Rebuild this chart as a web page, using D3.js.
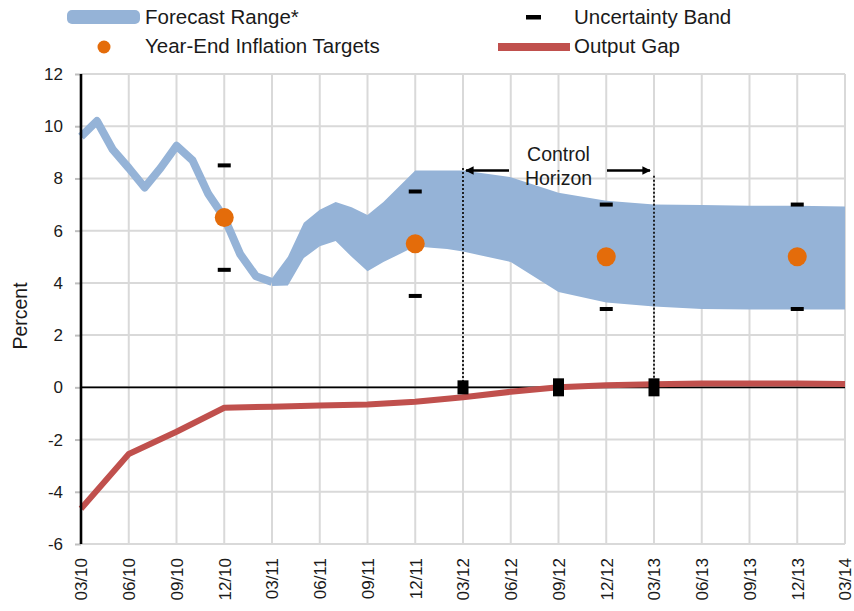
<!DOCTYPE html>
<html>
<head>
<meta charset="utf-8">
<script src="https://cdn.jsdelivr.net/npm/d3@7"></script>
<style>
  body { margin: 0; background: #fff; }
  text { font-family: "Liberation Sans", Arial, sans-serif; fill: #1a1a1a; }
</style>
</head>
<body>
<div class="chart"></div>
<script>
// data
var tickLabels = ["03/10", "06/10", "09/10", "12/10", "03/11", "06/11", "09/11", "12/11",
  "03/12", "06/12", "09/12", "12/12", "03/13", "06/13", "09/13", "12/13", "03/14"];
var yTicks = [-6, -4, -2, 0, 2, 4, 6, 8, 10, 12];

// inflation history (thin part of the forecast range)
var historyDates = ["2010-03", "2010-04", "2010-05", "2010-06", "2010-07", "2010-08", "2010-09",
  "2010-10", "2010-11", "2010-12", "2011-01", "2011-02", "2011-03"];
var historyValues = [9.6, 10.2, 9.1, 8.4, 7.65, 8.4, 9.25, 8.7, 7.4, 6.5, 5.1, 4.25, 4.03];

// forecast range
var bandDates = ["2011-03", "2011-04", "2011-05", "2011-06", "2011-07", "2011-08", "2011-09",
  "2011-10", "2011-11", "2011-12", "2012-01", "2012-02", "2012-03", "2012-06", "2012-09",
  "2012-12", "2013-03", "2013-06", "2013-09", "2013-12", "2014-03"];
var bandLow = [3.88, 3.9, 4.95, 5.4, 5.6, 5.0, 4.45, 4.8, 5.1, 5.4, 5.35, 5.3, 5.2, 4.8, 3.65,
  3.25, 3.1, 3.0, 2.98, 2.98, 2.98];
var bandHigh = [4.18, 5.0, 6.3, 6.8, 7.1, 6.9, 6.6, 7.1, 7.7, 8.3, 8.3, 8.3, 8.3, 8.05, 7.45,
  7.15, 7.0, 6.98, 6.95, 6.95, 6.93];

// output gap
var gapDates = ["2010-03", "2010-06", "2010-09", "2010-12", "2011-03", "2011-06", "2011-09",
  "2011-12", "2012-03", "2012-06", "2012-09", "2012-12", "2013-03", "2013-06", "2013-09",
  "2013-12", "2014-03"];
var gapValues = [-4.65, -2.55, -1.7, -0.78, -0.74, -0.7, -0.66, -0.55, -0.38, -0.17, 0.0,
  0.08, 0.12, 0.15, 0.15, 0.15, 0.13];

// year-end targets and uncertainty band
var targetDates = ["2010-12", "2011-12", "2012-12", "2013-12"];
var targetValues = [6.5, 5.5, 5.0, 5.0];
var bandUpper = [8.5, 7.5, 7.0, 7.0];
var bandLower = [4.5, 3.5, 3.0, 3.0];

// control horizon
var horizonDates = ["2012-03", "2013-03"];
var horizonTop = [8.4, 8.1];
var markerDates = ["2012-03", "2012-09", "2013-03"];

var svgWidth = 854;
var svgHeight = 611;
var margin = { top: 74, right: 9, bottom: 67, left: 81 };
var width = svgWidth - margin.left - margin.right;
var height = svgHeight - margin.top - margin.bottom;

function monthIndex(s) {
  var p = s.split("-");
  return (+p[0] - 2010) * 12 + (+p[1]) - 3;
}
function labelMonth(l) {
  var p = l.split("/");
  return (+p[1] - 10) * 12 + (+p[0]) - 3;
}

var blue = "#95b3d7", red = "#c0504d", orange = "#e46c0a", grid = "#d9d9d9";

var svg = d3.select(".chart")
  .append("svg")
  .attr("width", svgWidth)
  .attr("height", svgHeight);

var chartGroup = svg.append("g")
  .attr("transform", `translate(${margin.left}, ${margin.top})`);

var x = d3.scaleLinear().domain([0, 48]).range([0, width]);
var y = d3.scaleLinear().domain([-6, 12]).range([height, 0]);

var tickMonths = tickLabels.map(labelMonth);

// gridlines
chartGroup.selectAll(".hgrid")
  .data(yTicks)
  .enter()
  .append("line")
  .attr("x1", 0).attr("x2", width)
  .attr("y1", d => y(d)).attr("y2", d => y(d))
  .attr("stroke", grid)
  .attr("stroke-width", 2);

chartGroup.selectAll(".vgrid")
  .data(tickMonths.slice(1))
  .enter()
  .append("line")
  .attr("x1", d => x(d)).attr("x2", d => x(d))
  .attr("y1", 0).attr("y2", height)
  .attr("stroke", grid)
  .attr("stroke-width", 2);

// forecast range
var band = bandDates.map((d, i) => ({ m: monthIndex(d), lo: bandLow[i], hi: bandHigh[i] }));
chartGroup.append("path")
  .datum(band)
  .attr("fill", blue)
  .attr("d", d3.area().x(d => x(d.m)).y0(d => y(d.lo)).y1(d => y(d.hi)));

var hist = historyDates.map((d, i) => ({ m: monthIndex(d), v: historyValues[i] }));
chartGroup.append("path")
  .datum(hist)
  .attr("fill", "none")
  .attr("stroke", blue)
  .attr("stroke-width", 8)
  .attr("stroke-linejoin", "round")
  .attr("d", d3.line().x(d => x(d.m)).y(d => y(d.v)));

// zero line
chartGroup.append("line")
  .attr("x1", 0).attr("x2", width)
  .attr("y1", y(0)).attr("y2", y(0))
  .attr("stroke", "#000")
  .attr("stroke-width", 1.7);

// output gap
var gap = gapDates.map((d, i) => ({ m: monthIndex(d), v: gapValues[i] }));
chartGroup.append("path")
  .datum(gap)
  .attr("fill", "none")
  .attr("stroke", red)
  .attr("stroke-width", 6)
  .attr("stroke-linejoin", "round")
  .attr("d", d3.line().x(d => x(d.m)).y(d => y(d.v)));

// control horizon
chartGroup.selectAll(".horizon")
  .data(horizonDates)
  .enter()
  .append("line")
  .attr("x1", d => x(monthIndex(d))).attr("x2", d => x(monthIndex(d)))
  .attr("y1", (d, i) => y(horizonTop[i])).attr("y2", y(0))
  .attr("stroke", "#111")
  .attr("stroke-width", 1.8)
  .attr("stroke-dasharray", "2,2");

chartGroup.selectAll(".marker")
  .data(markerDates)
  .enter()
  .append("rect")
  .attr("x", d => x(monthIndex(d)) - 5.5)
  .attr("y", (d, i) => y(0) - (i ? 9 : 7))
  .attr("width", 11)
  .attr("height", (d, i) => i ? 18 : 14)
  .attr("fill", "#000");

var defs = svg.append("defs");
defs.append("marker")
  .attr("id", "head")
  .attr("viewBox", "0 0 10 10")
  .attr("refX", 9).attr("refY", 5)
  .attr("markerWidth", 4).attr("markerHeight", 3.4)
  .attr("orient", "auto")
  .append("path")
  .attr("d", "M0,0L10,5L0,10Z")
  .attr("fill", "#000");

var hx0 = x(monthIndex(horizonDates[0])), hx1 = x(monthIndex(horizonDates[1]));
var arrowY = y(8.3);
chartGroup.append("line")
  .attr("x1", hx0 + 46).attr("x2", hx0 + 3)
  .attr("y1", arrowY).attr("y2", arrowY)
  .attr("stroke", "#000").attr("stroke-width", 2.5)
  .attr("marker-end", "url(#head)");
chartGroup.append("line")
  .attr("x1", hx1 - 47).attr("x2", hx1 - 4)
  .attr("y1", arrowY).attr("y2", arrowY)
  .attr("stroke", "#000").attr("stroke-width", 2.5)
  .attr("marker-end", "url(#head)");

chartGroup.append("text")
  .attr("x", (hx0 + hx1) / 2)
  .attr("y", y(8.3) - 10)
  .attr("text-anchor", "middle")
  .style("font-size", "19.5px")
  .text("Control");
chartGroup.append("text")
  .attr("x", (hx0 + hx1) / 2)
  .attr("y", y(8.3) + 14)
  .attr("text-anchor", "middle")
  .style("font-size", "19.5px")
  .text("Horizon");

// uncertainty band dashes
var targets = targetDates.map((d, i) => ({ m: monthIndex(d), v: targetValues[i], up: bandUpper[i], lo: bandLower[i] }));
chartGroup.selectAll(".dashUp")
  .data(targets)
  .enter()
  .append("rect")
  .attr("x", d => x(d.m) - 6.5)
  .attr("y", d => y(d.up) - 2)
  .attr("width", 13).attr("height", 4)
  .attr("fill", "#000");
chartGroup.selectAll(".dashLo")
  .data(targets)
  .enter()
  .append("rect")
  .attr("x", d => x(d.m) - 6.5)
  .attr("y", d => y(d.lo) - 2)
  .attr("width", 13).attr("height", 4)
  .attr("fill", "#000");

// year-end targets
chartGroup.selectAll(".target")
  .data(targets)
  .enter()
  .append("circle")
  .attr("cx", d => x(d.m))
  .attr("cy", d => y(d.v))
  .attr("r", 9.5)
  .attr("fill", orange);

// axes
var leftAxis = d3.axisLeft(y).tickValues(yTicks).tickSize(6).tickPadding(12)
  .tickFormat(d => String(d));
var yAxisG = chartGroup.append("g").call(leftAxis);
yAxisG.select(".domain").remove();
yAxisG.selectAll("line").attr("stroke", "#bfbfbf").attr("stroke-width", 2);
yAxisG.selectAll("text").style("font-size", "17px").style("fill", "#1a1a1a");

var bottomAxis = d3.axisBottom(x).tickValues(tickMonths).tickFormat((d, i) => tickLabels[i]).tickSize(0);
var xAxisG = chartGroup.append("g")
  .attr("transform", `translate(0, ${height})`)
  .call(bottomAxis);
xAxisG.select(".domain").remove();
xAxisG.selectAll("text")
  .attr("y", 0)
  .attr("x", -14)
  .attr("dy", "0.35em")
  .attr("transform", "rotate(-90)")
  .style("text-anchor", "end")
  .style("font-size", "17px")
  .style("fill", "#1a1a1a");

chartGroup.append("line")
  .attr("x1", 0).attr("x2", 0)
  .attr("y1", 0).attr("y2", height)
  .attr("stroke", "#000")
  .attr("stroke-width", 2.6);

// y axis title
svg.append("text")
  .attr("transform", `translate(27, 316) rotate(-90)`)
  .attr("text-anchor", "middle")
  .style("font-size", "19.5px")
  .text("Percent");

// legend
var legend = svg.append("g");
legend.append("rect")
  .attr("x", 67).attr("y", 10)
  .attr("width", 73).attr("height", 14)
  .attr("rx", 5)
  .attr("fill", blue);
legend.append("text").attr("x", 145).attr("y", 24).style("font-size", "20.5px").text("Forecast Range*");
legend.append("circle").attr("cx", 104).attr("cy", 47).attr("r", 6.5).attr("fill", orange);
legend.append("text").attr("x", 145).attr("y", 53).style("font-size", "20.5px").text("Year-End Inflation Targets");
legend.append("rect").attr("x", 526).attr("y", 15).attr("width", 15).attr("height", 4.5).attr("fill", "#000");
legend.append("text").attr("x", 574).attr("y", 24).style("font-size", "20.5px").text("Uncertainty Band");
legend.append("line")
  .attr("x1", 498).attr("x2", 570)
  .attr("y1", 47).attr("y2", 47)
  .attr("stroke", red).attr("stroke-width", 8);
legend.append("text").attr("x", 574).attr("y", 53).style("font-size", "20.5px").text("Output Gap");
</script>
</body>
</html>
